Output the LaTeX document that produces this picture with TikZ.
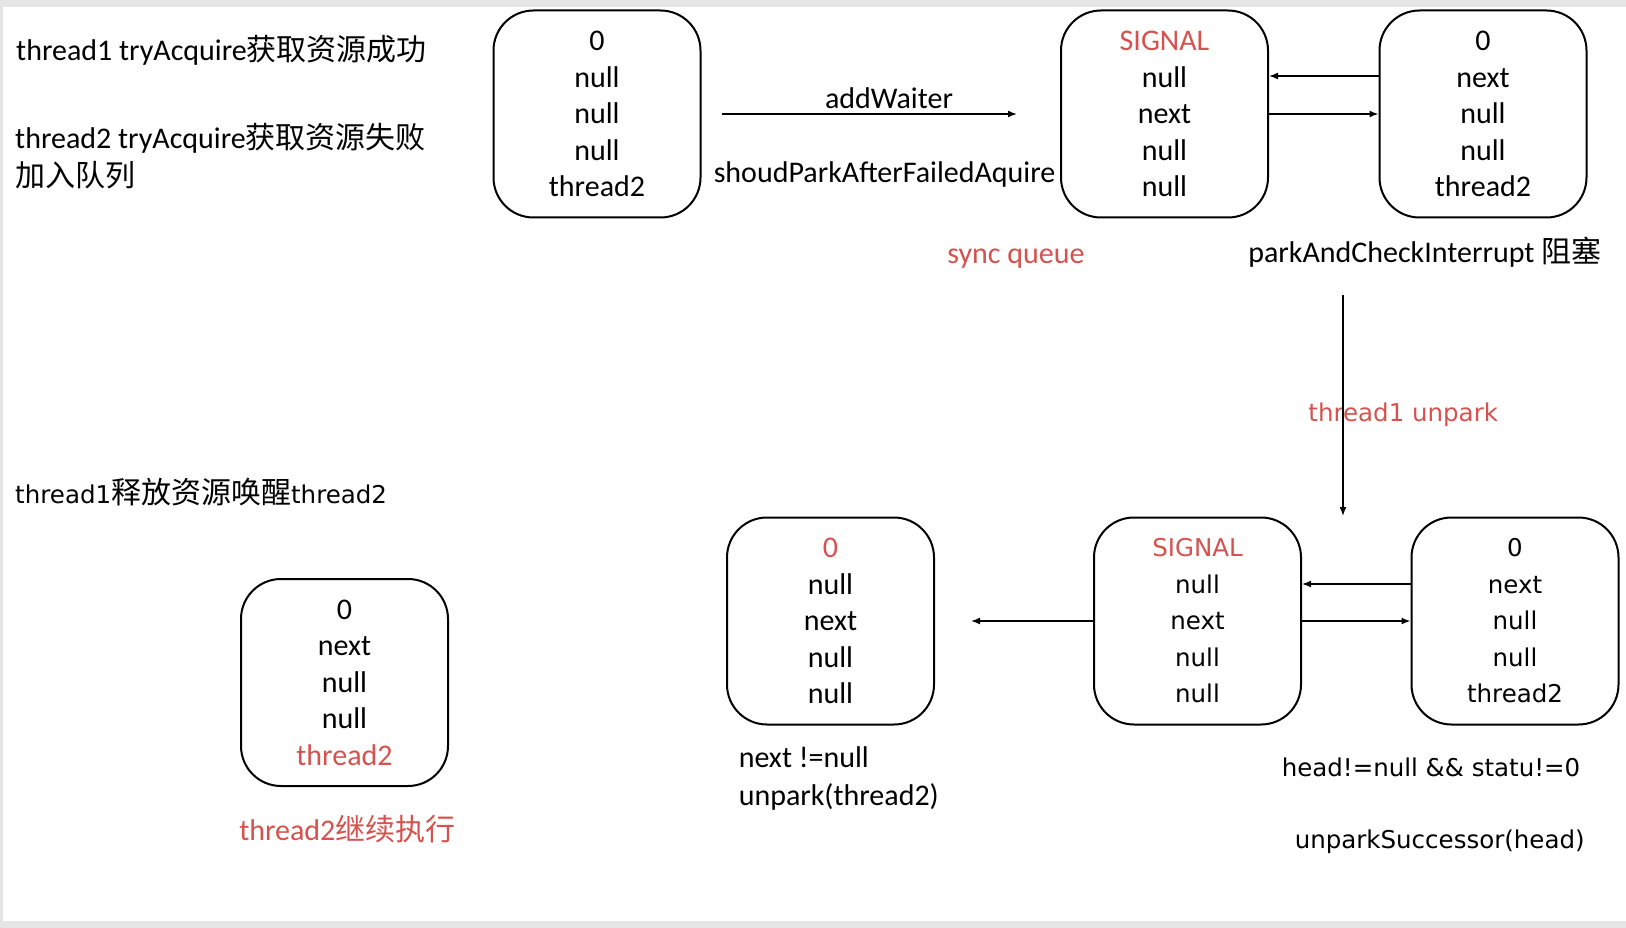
\documentclass[tikz,border=0pt]{standalone}
\usepackage{fontspec}
\setmainfont{Carlito}
\newfontfamily\luc{DejaVu Sans}
\newfontfamily\zh{Noto Sans CJK SC}
\usetikzlibrary{arrows.meta}
\definecolor{sigred}{RGB}{214,82,78}

\begin{document}
\begin{tikzpicture}[x=1pt, y=-1pt, line width=1.5pt,
	qnode/.style={draw, line width=2pt, rounded corners=40pt, minimum width=207pt, minimum height=207pt, inner sep=0pt, align=center, font=\fontsize{30}{36.5}\selectfont},
	qluc/.style={qnode, font=\fontsize{24.5}{36.5}\selectfont\luc},
	lbl/.style={inner sep=0pt, anchor=west, font=\fontsize{30}{38}\selectfont},
	lbluc/.style={lbl, font=\fontsize{24.5}{38}\selectfont\luc},
	ptr/.style={-{Latex[length=9pt,width=7pt]}}]
	\fill[black!10] (0,0) rectangle (1626,928);
	\fill[white] (3,7) rectangle (1626,921);

	\node (B1) at (597,114)		[qnode]	{0\\null\\null\\null\\thread2};
	\node (B2) at (1164.5,114)	[qnode]	{\textcolor{sigred}{SIGNAL}\\null\\next\\null\\null};
	\node (B3) at (1483,114)	[qnode]	{0\\next\\null\\null\\thread2};
	\node (B4) at (830.5,621)	[qnode]	{\textcolor{sigred}{0}\\null\\next\\null\\null};
	\node (B5) at (1197.5,621)	[qluc]	{\textcolor{sigred}{SIGNAL}\\null\\next\\null\\null};
	\node (B6) at (1515,621)	[qluc]	{0\\next\\null\\null\\thread2};
	\node (B7) at (344.5,682.5)	[qnode]	{0\\next\\null\\null\\\textcolor{sigred}{thread2}};

	\node (T1) at (15.5,50)		[lbl]	{thread1 tryAcquire{\zh 获取资源成功}};
	\node (T2) at (14.5,156.5)	[lbl, align=left]	{thread2 tryAcquire{\zh 获取资源失败}\\{\zh 加入队列}};
	\node (T3) at (14.5,492)	[lbluc]	{thread1{\zh\fontsize{30}{38}\selectfont 释放资源唤醒}thread2};
	\node (add) at (889,98)		[lbl, anchor=center]	{addWaiter};
	\node (shp) at (713,175)	[lbl]	{shoudParkAfterFailedAquire};
	\node (sq) at (1016,259)	[lbl, anchor=center, text=sigred]	{sync queue};
	\node (pk) at (1247.5,252)	[lbl]	{parkAndCheckInterrupt {\zh 阻塞}};
	\node (un) at (1307.7,415)	[lbluc, text=sigred]	{thread1 unpark};
	\node (nx) at (738,778)		[lbl, align=left]	{next !=null\\unpark(thread2)};
	\node (hd) at (1281,767)	[lbluc]	{head!=null \&\& statu!=0};
	\node (us) at (1294,842)	[lbluc]	{unparkSuccessor(head)};
	\node (go) at (238.5,829)	[lbl, text=sigred]	{thread2{\zh 继续执行}};

	\coordinate (V1) at (1343,295);
	\coordinate (V2) at (1343,516);
	\draw[ptr] (V1) -- (V2);
	\draw[ptr, shorten <=20pt, shorten >=43pt] (B1) -- (B2);
	\draw[ptr] ([yshift=38pt]B3.west) -- ([yshift=38pt]B2.east);
	\draw[ptr] (B2) -- (B3);
	\draw[ptr] ([yshift=37pt]B6.west) -- ([yshift=37pt]B5.east);
	\draw[ptr] (B5) -- (B6);
	\draw[ptr, shorten >=36pt] (B5) -- (B4);
\end{tikzpicture}
\end{document}
